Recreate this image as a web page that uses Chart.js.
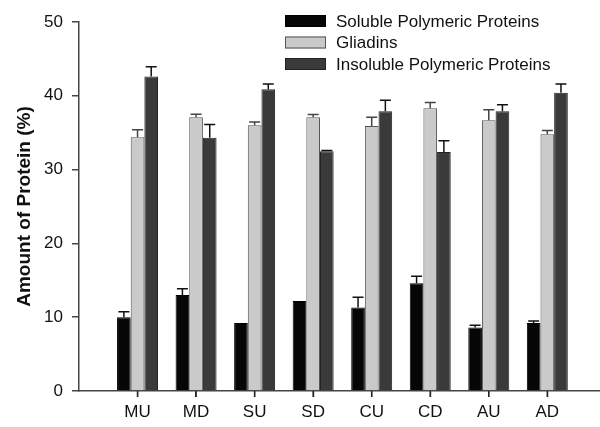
<!DOCTYPE html>
<html>
<head>
<meta charset="utf-8">
<script src="https://cdn.jsdelivr.net/npm/chart.js@4.4.1/dist/chart.umd.min.js"></script>
<style>
  html, body { margin: 0; padding: 0; background: #fff; }
  #wrap { width: 600px; height: 427px; }
</style>
</head>
<body>
<div id="wrap"><canvas id="chart" width="600" height="427"></canvas></div>
<script>
// categories (samples) and series
var categories = ['MU', 'MD', 'SU', 'SD', 'CU', 'CD', 'AU', 'AD'];
var seriesNames = ['Soluble Polymeric Proteins', 'Gliadins', 'Insoluble Polymeric Proteins'];

var soluble      = [10.0, 13.0, 9.2, 12.2, 11.3, 14.6, 8.6, 9.2];
var solubleErr   = [0.75, 0.85, 0.0, 0.0, 1.4, 0.95, 0.3, 0.3];
var gliadins     = [34.4, 37.1, 36.0, 37.1, 35.9, 38.3, 36.7, 34.8];
var gliadinsErr  = [1.0, 0.4, 0.45, 0.35, 1.2, 0.8, 1.4, 0.5];
var insoluble    = [42.6, 34.3, 40.9, 32.5, 37.9, 32.4, 37.9, 40.4];
var insolubleErr = [1.35, 1.8, 0.7, 0.1, 1.5, 1.5, 0.9, 1.2];

var yTicks = [0, 10, 20, 30, 40, 50];

var fills   = ['#060606', '#cacaca', '#3a3a3a'];
var borders = ['#000000', '#555555', '#222222'];
var errors  = [solubleErr, gliadinsErr, insolubleErr];

var FONT = 'Liberation Sans, Arial, Helvetica, sans-serif';

function points(values) {
  return values.map(function (v, i) { return { x: i + 1, y: v }; });
}

//draws the upper error bars on top of every bar, plus the small x tick marks
var errorBars = {
  id: 'errorBars',
  afterDatasetsDraw: function (chart) {
    var ctx = chart.ctx;
    var y = chart.scales.y;
    var x = chart.scales.x;
    ctx.save();
    chart.data.datasets.forEach(function (ds, i) {
      var meta = chart.getDatasetMeta(i);
      meta.data.forEach(function (bar, j) {
        var err = errors[i][j];
        if (!err) return;
        var top = y.getPixelForValue(ds.data[j].y + err);
        ctx.strokeStyle = i === 1 ? '#444' : '#111';
        ctx.lineWidth = 1.5;
        ctx.beginPath();
        ctx.moveTo(bar.x, bar.y);
        ctx.lineTo(bar.x, top);
        ctx.moveTo(bar.x - 5.5, top);
        ctx.lineTo(bar.x + 5.5, top);
        ctx.stroke();
      });
    });
    // tick marks under the axis at each category
    ctx.fillStyle = '#222';
    var base = chart.chartArea.bottom;
    categories.forEach(function (c, i) {
      var px = x.getPixelForValue(i + 1);
      ctx.fillRect(px - 0.75, base, 1.5, 6);
    });
    ctx.restore();
  }
};

//legend drawn inside the plot, top right
var innerLegend = {
  id: 'innerLegend',
  afterDraw: function (chart) {
    var ctx = chart.ctx;
    ctx.save();
    ctx.font = '17px ' + FONT;
    ctx.textBaseline = 'middle';
    chart.data.datasets.forEach(function (ds, i) {
      var cy = 21 + i * 21.5;
      ctx.fillStyle = ds.backgroundColor;
      ctx.fillRect(285, cy - 6, 41, 12);
      ctx.strokeStyle = ds.borderColor;
      ctx.lineWidth = 1;
      ctx.strokeRect(285.5, cy - 5.5, 40, 11);
      ctx.fillStyle = '#111';
      ctx.fillText(ds.label, 336, cy + 1);
    });
    ctx.restore();
  }
};

var chart = new Chart(document.getElementById('chart'), {
  type: 'bar',
  data: {
    datasets: [
      { label: seriesNames[0], data: points(soluble),   backgroundColor: fills[0], borderColor: borders[0], borderWidth: 1 },
      { label: seriesNames[1], data: points(gliadins),  backgroundColor: fills[1], borderColor: borders[1], borderWidth: 1 },
      { label: seriesNames[2], data: points(insoluble), backgroundColor: fills[2], borderColor: borders[2], borderWidth: 1 }
    ]
  },
  options: {
    responsive: false,
    animation: false,
    devicePixelRatio: 1,
    categoryPercentage: 0.7,
    barPercentage: 1.0,
    layout: { padding: { top: 22, right: 0, left: 0, bottom: 0 } },
    plugins: {
      legend: { display: false },
      tooltip: { enabled: false }
    },
    scales: {
      x: {
        type: 'linear',
        offset: false,
        min: 0,
        max: 8.9,
        afterBuildTicks: function (scale) {
          scale.ticks = categories.map(function (c, i) { return { value: i + 1 }; });
        },
        afterFit: function (scale) { scale.height = 36; },
        ticks: {
          autoSkip: false,
          maxRotation: 0,
          padding: 5,
          color: '#111',
          font: { family: FONT, size: 17 },
          callback: function (v) { return categories[v - 1]; }
        },
        grid: {
          offset: false, drawOnChartArea: false, drawTicks: true, tickLength: 6,
          color: '#444', tickColor: '#333', tickWidth: 1.2, lineWidth: 1.2
        },
        border: { display: true, color: '#444', width: 1.5 }
      },
      y: {
        min: 0,
        max: 50,
        afterBuildTicks: function (scale) {
          scale.ticks = yTicks.map(function (t) { return { value: t }; });
        },
        afterFit: function (scale) { scale.width = 79; },
        ticks: {
          padding: 9,
          color: '#111',
          font: { family: FONT, size: 17 }
        },
        grid: { drawOnChartArea: false, drawTicks: true, tickLength: 7, color: '#444', lineWidth: 1.5 },
        border: { display: true, color: '#444', width: 1.5 },
        title: {
          display: true,
          text: 'Amount of Protein (%)',
          color: '#111',
          font: { family: FONT, size: 19, weight: 'bold' },
          padding: { top: 13, bottom: 4 }
        }
      }
    }
  },
  plugins: [errorBars, innerLegend]
});
</script>
</body>
</html>
